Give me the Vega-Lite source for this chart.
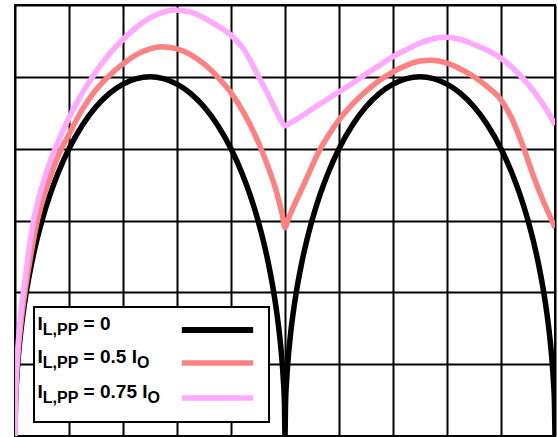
{
  "$schema": "https://vega.github.io/schema/vega-lite/v6.json",
  "width": 540,
  "height": 431,
  "autosize": {"type": "none"},
  "padding": {"left": 15, "top": 5, "right": 3, "bottom": 1},
  "background": "white",
  "config": {
    "view": {"stroke": "#000000", "strokeWidth": 2},
    "text": {"font": "Liberation Sans", "fontWeight": "bold", "fontSize": 19, "align": "left", "baseline": "alphabetic", "color": "#000000"}
  },
  "datasets": {
    "curves": [
      {"series": "I_L,PP = 0", "x": 0, "y": 0},
      {"series": "I_L,PP = 0", "x": 0.01, "y": 0.447},
      {"series": "I_L,PP = 0", "x": 0.03, "y": 0.772},
      {"series": "I_L,PP = 0", "x": 0.06, "y": 1.089},
      {"series": "I_L,PP = 0", "x": 0.1, "y": 1.4},
      {"series": "I_L,PP = 0", "x": 0.15, "y": 1.706},
      {"series": "I_L,PP = 0", "x": 0.2, "y": 1.96},
      {"series": "I_L,PP = 0", "x": 0.3, "y": 2.375},
      {"series": "I_L,PP = 0", "x": 0.4, "y": 2.713},
      {"series": "I_L,PP = 0", "x": 0.5, "y": 3.0},
      {"series": "I_L,PP = 0", "x": 0.65, "y": 3.363},
      {"series": "I_L,PP = 0", "x": 0.8, "y": 3.666},
      {"series": "I_L,PP = 0", "x": 1, "y": 4.0},
      {"series": "I_L,PP = 0", "x": 1.25, "y": 4.33},
      {"series": "I_L,PP = 0", "x": 1.5, "y": 4.583},
      {"series": "I_L,PP = 0", "x": 1.75, "y": 4.77},
      {"series": "I_L,PP = 0", "x": 2, "y": 4.899},
      {"series": "I_L,PP = 0", "x": 2.25, "y": 4.975},
      {"series": "I_L,PP = 0", "x": 2.5, "y": 5.0},
      {"series": "I_L,PP = 0", "x": 2.75, "y": 4.975},
      {"series": "I_L,PP = 0", "x": 3, "y": 4.899},
      {"series": "I_L,PP = 0", "x": 3.25, "y": 4.77},
      {"series": "I_L,PP = 0", "x": 3.5, "y": 4.583},
      {"series": "I_L,PP = 0", "x": 3.75, "y": 4.33},
      {"series": "I_L,PP = 0", "x": 4, "y": 4.0},
      {"series": "I_L,PP = 0", "x": 4.2, "y": 3.666},
      {"series": "I_L,PP = 0", "x": 4.35, "y": 3.363},
      {"series": "I_L,PP = 0", "x": 4.5, "y": 3.0},
      {"series": "I_L,PP = 0", "x": 4.6, "y": 2.713},
      {"series": "I_L,PP = 0", "x": 4.7, "y": 2.375},
      {"series": "I_L,PP = 0", "x": 4.8, "y": 1.96},
      {"series": "I_L,PP = 0", "x": 4.85, "y": 1.706},
      {"series": "I_L,PP = 0", "x": 4.9, "y": 1.4},
      {"series": "I_L,PP = 0", "x": 4.94, "y": 1.089},
      {"series": "I_L,PP = 0", "x": 4.97, "y": 0.772},
      {"series": "I_L,PP = 0", "x": 4.99, "y": 0.447},
      {"series": "I_L,PP = 0", "x": 5, "y": 0},
      {"series": "I_L,PP = 0", "x": 5.01, "y": 0.447},
      {"series": "I_L,PP = 0", "x": 5.03, "y": 0.772},
      {"series": "I_L,PP = 0", "x": 5.06, "y": 1.089},
      {"series": "I_L,PP = 0", "x": 5.1, "y": 1.4},
      {"series": "I_L,PP = 0", "x": 5.15, "y": 1.706},
      {"series": "I_L,PP = 0", "x": 5.2, "y": 1.96},
      {"series": "I_L,PP = 0", "x": 5.3, "y": 2.375},
      {"series": "I_L,PP = 0", "x": 5.4, "y": 2.713},
      {"series": "I_L,PP = 0", "x": 5.5, "y": 3.0},
      {"series": "I_L,PP = 0", "x": 5.65, "y": 3.363},
      {"series": "I_L,PP = 0", "x": 5.8, "y": 3.666},
      {"series": "I_L,PP = 0", "x": 6, "y": 4.0},
      {"series": "I_L,PP = 0", "x": 6.25, "y": 4.33},
      {"series": "I_L,PP = 0", "x": 6.5, "y": 4.583},
      {"series": "I_L,PP = 0", "x": 6.75, "y": 4.77},
      {"series": "I_L,PP = 0", "x": 7, "y": 4.899},
      {"series": "I_L,PP = 0", "x": 7.25, "y": 4.975},
      {"series": "I_L,PP = 0", "x": 7.5, "y": 5.0},
      {"series": "I_L,PP = 0", "x": 7.75, "y": 4.975},
      {"series": "I_L,PP = 0", "x": 8, "y": 4.899},
      {"series": "I_L,PP = 0", "x": 8.25, "y": 4.77},
      {"series": "I_L,PP = 0", "x": 8.5, "y": 4.583},
      {"series": "I_L,PP = 0", "x": 8.75, "y": 4.33},
      {"series": "I_L,PP = 0", "x": 9, "y": 4.0},
      {"series": "I_L,PP = 0", "x": 9.2, "y": 3.666},
      {"series": "I_L,PP = 0", "x": 9.35, "y": 3.363},
      {"series": "I_L,PP = 0", "x": 9.5, "y": 3.0},
      {"series": "I_L,PP = 0", "x": 9.6, "y": 2.713},
      {"series": "I_L,PP = 0", "x": 9.7, "y": 2.375},
      {"series": "I_L,PP = 0", "x": 9.8, "y": 1.96},
      {"series": "I_L,PP = 0", "x": 9.85, "y": 1.706},
      {"series": "I_L,PP = 0", "x": 9.9, "y": 1.4},
      {"series": "I_L,PP = 0", "x": 9.94, "y": 1.089},
      {"series": "I_L,PP = 0", "x": 9.97, "y": 0.772},
      {"series": "I_L,PP = 0", "x": 9.99, "y": 0.447},
      {"series": "I_L,PP = 0", "x": 10, "y": 0},

      {"series": "I_L,PP = 0.5 I_O", "x": 0, "y": 0},
      {"series": "I_L,PP = 0.5 I_O", "x": 0.01, "y": 0.5},
      {"series": "I_L,PP = 0.5 I_O", "x": 0.03, "y": 0.85},
      {"series": "I_L,PP = 0.5 I_O", "x": 0.06, "y": 1.18},
      {"series": "I_L,PP = 0.5 I_O", "x": 0.1, "y": 1.5},
      {"series": "I_L,PP = 0.5 I_O", "x": 0.15, "y": 1.82},
      {"series": "I_L,PP = 0.5 I_O", "x": 0.2, "y": 2.08},
      {"series": "I_L,PP = 0.5 I_O", "x": 0.3, "y": 2.55},
      {"series": "I_L,PP = 0.5 I_O", "x": 0.4, "y": 2.95},
      {"series": "I_L,PP = 0.5 I_O", "x": 0.5, "y": 3.25},
      {"series": "I_L,PP = 0.5 I_O", "x": 0.65, "y": 3.6},
      {"series": "I_L,PP = 0.5 I_O", "x": 0.8, "y": 3.9},
      {"series": "I_L,PP = 0.5 I_O", "x": 1, "y": 4.2},
      {"series": "I_L,PP = 0.5 I_O", "x": 1.25, "y": 4.55},
      {"series": "I_L,PP = 0.5 I_O", "x": 1.5, "y": 4.82},
      {"series": "I_L,PP = 0.5 I_O", "x": 1.75, "y": 5.02},
      {"series": "I_L,PP = 0.5 I_O", "x": 2, "y": 5.18},
      {"series": "I_L,PP = 0.5 I_O", "x": 2.25, "y": 5.31},
      {"series": "I_L,PP = 0.5 I_O", "x": 2.5, "y": 5.39},
      {"series": "I_L,PP = 0.5 I_O", "x": 2.7, "y": 5.42},
      {"series": "I_L,PP = 0.5 I_O", "x": 3, "y": 5.39},
      {"series": "I_L,PP = 0.5 I_O", "x": 3.25, "y": 5.31},
      {"series": "I_L,PP = 0.5 I_O", "x": 3.5, "y": 5.18},
      {"series": "I_L,PP = 0.5 I_O", "x": 3.75, "y": 5.0},
      {"series": "I_L,PP = 0.5 I_O", "x": 4, "y": 4.78},
      {"series": "I_L,PP = 0.5 I_O", "x": 4.25, "y": 4.48},
      {"series": "I_L,PP = 0.5 I_O", "x": 4.5, "y": 4.1},
      {"series": "I_L,PP = 0.5 I_O", "x": 4.7, "y": 3.72},
      {"series": "I_L,PP = 0.5 I_O", "x": 4.85, "y": 3.38},
      {"series": "I_L,PP = 0.5 I_O", "x": 4.95, "y": 3.08},
      {"series": "I_L,PP = 0.5 I_O", "x": 5, "y": 2.9},
      {"series": "I_L,PP = 0.5 I_O", "x": 5.05, "y": 3.0},
      {"series": "I_L,PP = 0.5 I_O", "x": 5.15, "y": 3.18},
      {"series": "I_L,PP = 0.5 I_O", "x": 5.28, "y": 3.39},
      {"series": "I_L,PP = 0.5 I_O", "x": 5.45, "y": 3.67},
      {"series": "I_L,PP = 0.5 I_O", "x": 5.6, "y": 3.92},
      {"series": "I_L,PP = 0.5 I_O", "x": 5.8, "y": 4.18},
      {"series": "I_L,PP = 0.5 I_O", "x": 6, "y": 4.4},
      {"series": "I_L,PP = 0.5 I_O", "x": 6.25, "y": 4.62},
      {"series": "I_L,PP = 0.5 I_O", "x": 6.5, "y": 4.8},
      {"series": "I_L,PP = 0.5 I_O", "x": 6.75, "y": 4.95},
      {"series": "I_L,PP = 0.5 I_O", "x": 7, "y": 5.07},
      {"series": "I_L,PP = 0.5 I_O", "x": 7.25, "y": 5.16},
      {"series": "I_L,PP = 0.5 I_O", "x": 7.5, "y": 5.22},
      {"series": "I_L,PP = 0.5 I_O", "x": 7.7, "y": 5.23},
      {"series": "I_L,PP = 0.5 I_O", "x": 8, "y": 5.19},
      {"series": "I_L,PP = 0.5 I_O", "x": 8.25, "y": 5.11},
      {"series": "I_L,PP = 0.5 I_O", "x": 8.5, "y": 5.0},
      {"series": "I_L,PP = 0.5 I_O", "x": 8.75, "y": 4.86},
      {"series": "I_L,PP = 0.5 I_O", "x": 9, "y": 4.68},
      {"series": "I_L,PP = 0.5 I_O", "x": 9.2, "y": 4.42},
      {"series": "I_L,PP = 0.5 I_O", "x": 9.4, "y": 4.05},
      {"series": "I_L,PP = 0.5 I_O", "x": 9.6, "y": 3.62},
      {"series": "I_L,PP = 0.5 I_O", "x": 9.8, "y": 3.24},
      {"series": "I_L,PP = 0.5 I_O", "x": 9.9, "y": 3.07},
      {"series": "I_L,PP = 0.5 I_O", "x": 10, "y": 2.9},

      {"series": "I_L,PP = 0.75 I_O", "x": 0, "y": 0},
      {"series": "I_L,PP = 0.75 I_O", "x": 0.01, "y": 0.55},
      {"series": "I_L,PP = 0.75 I_O", "x": 0.03, "y": 0.95},
      {"series": "I_L,PP = 0.75 I_O", "x": 0.06, "y": 1.3},
      {"series": "I_L,PP = 0.75 I_O", "x": 0.1, "y": 1.65},
      {"series": "I_L,PP = 0.75 I_O", "x": 0.17, "y": 2.08},
      {"series": "I_L,PP = 0.75 I_O", "x": 0.25, "y": 2.55},
      {"series": "I_L,PP = 0.75 I_O", "x": 0.34, "y": 2.98},
      {"series": "I_L,PP = 0.75 I_O", "x": 0.5, "y": 3.47},
      {"series": "I_L,PP = 0.75 I_O", "x": 0.65, "y": 3.82},
      {"series": "I_L,PP = 0.75 I_O", "x": 0.8, "y": 4.1},
      {"series": "I_L,PP = 0.75 I_O", "x": 1, "y": 4.43},
      {"series": "I_L,PP = 0.75 I_O", "x": 1.25, "y": 4.78},
      {"series": "I_L,PP = 0.75 I_O", "x": 1.5, "y": 5.07},
      {"series": "I_L,PP = 0.75 I_O", "x": 1.75, "y": 5.32},
      {"series": "I_L,PP = 0.75 I_O", "x": 2, "y": 5.52},
      {"series": "I_L,PP = 0.75 I_O", "x": 2.25, "y": 5.69},
      {"series": "I_L,PP = 0.75 I_O", "x": 2.5, "y": 5.82},
      {"series": "I_L,PP = 0.75 I_O", "x": 2.75, "y": 5.9},
      {"series": "I_L,PP = 0.75 I_O", "x": 2.93, "y": 5.93},
      {"series": "I_L,PP = 0.75 I_O", "x": 3.25, "y": 5.9},
      {"series": "I_L,PP = 0.75 I_O", "x": 3.5, "y": 5.82},
      {"series": "I_L,PP = 0.75 I_O", "x": 3.75, "y": 5.71},
      {"series": "I_L,PP = 0.75 I_O", "x": 4, "y": 5.58},
      {"series": "I_L,PP = 0.75 I_O", "x": 4.2, "y": 5.42},
      {"series": "I_L,PP = 0.75 I_O", "x": 4.35, "y": 5.24},
      {"series": "I_L,PP = 0.75 I_O", "x": 4.5, "y": 5.02},
      {"series": "I_L,PP = 0.75 I_O", "x": 4.67, "y": 4.78},
      {"series": "I_L,PP = 0.75 I_O", "x": 4.8, "y": 4.58},
      {"series": "I_L,PP = 0.75 I_O", "x": 4.9, "y": 4.43},
      {"series": "I_L,PP = 0.75 I_O", "x": 5, "y": 4.32},
      {"series": "I_L,PP = 0.75 I_O", "x": 5.1, "y": 4.36},
      {"series": "I_L,PP = 0.75 I_O", "x": 5.28, "y": 4.44},
      {"series": "I_L,PP = 0.75 I_O", "x": 5.5, "y": 4.55},
      {"series": "I_L,PP = 0.75 I_O", "x": 5.75, "y": 4.67},
      {"series": "I_L,PP = 0.75 I_O", "x": 6, "y": 4.79},
      {"series": "I_L,PP = 0.75 I_O", "x": 6.25, "y": 4.91},
      {"series": "I_L,PP = 0.75 I_O", "x": 6.5, "y": 5.04},
      {"series": "I_L,PP = 0.75 I_O", "x": 6.75, "y": 5.16},
      {"series": "I_L,PP = 0.75 I_O", "x": 7, "y": 5.28},
      {"series": "I_L,PP = 0.75 I_O", "x": 7.25, "y": 5.38},
      {"series": "I_L,PP = 0.75 I_O", "x": 7.5, "y": 5.47},
      {"series": "I_L,PP = 0.75 I_O", "x": 7.75, "y": 5.53},
      {"series": "I_L,PP = 0.75 I_O", "x": 7.93, "y": 5.55},
      {"series": "I_L,PP = 0.75 I_O", "x": 8.2, "y": 5.53},
      {"series": "I_L,PP = 0.75 I_O", "x": 8.5, "y": 5.45},
      {"series": "I_L,PP = 0.75 I_O", "x": 8.75, "y": 5.37},
      {"series": "I_L,PP = 0.75 I_O", "x": 9, "y": 5.26},
      {"series": "I_L,PP = 0.75 I_O", "x": 9.25, "y": 5.1},
      {"series": "I_L,PP = 0.75 I_O", "x": 9.5, "y": 4.9},
      {"series": "I_L,PP = 0.75 I_O", "x": 9.75, "y": 4.65},
      {"series": "I_L,PP = 0.75 I_O", "x": 9.9, "y": 4.47},
      {"series": "I_L,PP = 0.75 I_O", "x": 10, "y": 4.33}
    ],
    "one": [{}]
  },
  "layer": [
    {
      "data": {"name": "curves"},
      "mark": {"type": "line", "strokeWidth": 5.5, "strokeJoin": "round", "interpolate": "monotone", "clip": true},
      "encoding": {
        "x": {
          "field": "x", "type": "quantitative",
          "scale": {"domain": [0, 10], "nice": false, "zero": false},
          "axis": {"values": [0, 1, 2, 3, 4, 5, 6, 7, 8, 9, 10], "grid": true, "labels": false, "ticks": false, "domain": false, "title": null, "gridColor": "#000000", "gridWidth": 2, "gridOpacity": 1}
        },
        "y": {
          "field": "y", "type": "quantitative",
          "scale": {"domain": [0, 6], "nice": false, "zero": false},
          "axis": {"values": [0, 1, 2, 3, 4, 5, 6], "grid": true, "labels": false, "ticks": false, "domain": false, "title": null, "gridColor": "#000000", "gridWidth": 2, "gridOpacity": 1}
        },
        "color": {
          "field": "series", "type": "nominal",
          "scale": {"domain": ["I_L,PP = 0", "I_L,PP = 0.5 I_O", "I_L,PP = 0.75 I_O"], "range": ["#000000", "#FF8080", "#FFAAFF"]},
          "legend": null
        }
      }
    },
    {
      "data": {"name": "one"},
      "mark": {"type": "rect", "fill": "#FFFFFF", "stroke": "#000000", "strokeWidth": 2},
      "encoding": {
        "x": {"datum": 0.352, "type": "quantitative"},
        "x2": {"datum": 4.704},
        "y": {"datum": 1.796, "type": "quantitative"},
        "y2": {"datum": 0.195}
      }
    },
    {
      "data": {"name": "one"},
      "mark": {"type": "rule", "stroke": "#000000", "strokeWidth": 6},
      "encoding": {"x": {"datum": 3.09, "type": "quantitative"}, "x2": {"datum": 4.41}, "y": {"datum": 1.476, "type": "quantitative"}}
    },
    {
      "data": {"name": "one"},
      "mark": {"type": "rule", "stroke": "#FF8080", "strokeWidth": 5.5},
      "encoding": {"x": {"datum": 3.09, "type": "quantitative"}, "x2": {"datum": 4.41}, "y": {"datum": 1.016, "type": "quantitative"}}
    },
    {
      "data": {"name": "one"},
      "mark": {"type": "rule", "stroke": "#FFAAFF", "strokeWidth": 5.5},
      "encoding": {"x": {"datum": 3.09, "type": "quantitative"}, "x2": {"datum": 4.41}, "y": {"datum": 0.529, "type": "quantitative"}}
    },
    {"data": {"name": "one"}, "mark": {"type": "text", "text": "I"}, "encoding": {"x": {"datum": 0.417, "type": "quantitative"}, "y": {"datum": 1.476, "type": "quantitative"}}},
    {"data": {"name": "one"}, "mark": {"type": "text", "text": "L,PP", "fontSize": 16, "dx": 5.3, "dy": 5}, "encoding": {"x": {"datum": 0.417, "type": "quantitative"}, "y": {"datum": 1.476, "type": "quantitative"}}},
    {"data": {"name": "one"}, "mark": {"type": "text", "text": "= 0", "dx": 46.1}, "encoding": {"x": {"datum": 0.417, "type": "quantitative"}, "y": {"datum": 1.476, "type": "quantitative"}}},
    {"data": {"name": "one"}, "mark": {"type": "text", "text": "I"}, "encoding": {"x": {"datum": 0.417, "type": "quantitative"}, "y": {"datum": 1.016, "type": "quantitative"}}},
    {"data": {"name": "one"}, "mark": {"type": "text", "text": "L,PP", "fontSize": 16, "dx": 5.3, "dy": 5}, "encoding": {"x": {"datum": 0.417, "type": "quantitative"}, "y": {"datum": 1.016, "type": "quantitative"}}},
    {"data": {"name": "one"}, "mark": {"type": "text", "text": "= 0.5 I", "dx": 46.1}, "encoding": {"x": {"datum": 0.417, "type": "quantitative"}, "y": {"datum": 1.016, "type": "quantitative"}}},
    {"data": {"name": "one"}, "mark": {"type": "text", "text": "O", "fontSize": 16, "dx": 99.5, "dy": 5}, "encoding": {"x": {"datum": 0.417, "type": "quantitative"}, "y": {"datum": 1.016, "type": "quantitative"}}},
    {"data": {"name": "one"}, "mark": {"type": "text", "text": "I"}, "encoding": {"x": {"datum": 0.417, "type": "quantitative"}, "y": {"datum": 0.529, "type": "quantitative"}}},
    {"data": {"name": "one"}, "mark": {"type": "text", "text": "L,PP", "fontSize": 16, "dx": 5.3, "dy": 5}, "encoding": {"x": {"datum": 0.417, "type": "quantitative"}, "y": {"datum": 0.529, "type": "quantitative"}}},
    {"data": {"name": "one"}, "mark": {"type": "text", "text": "= 0.75 I", "dx": 46.1}, "encoding": {"x": {"datum": 0.417, "type": "quantitative"}, "y": {"datum": 0.529, "type": "quantitative"}}},
    {"data": {"name": "one"}, "mark": {"type": "text", "text": "O", "fontSize": 16, "dx": 110.1, "dy": 5}, "encoding": {"x": {"datum": 0.417, "type": "quantitative"}, "y": {"datum": 0.529, "type": "quantitative"}}}
  ]
}
